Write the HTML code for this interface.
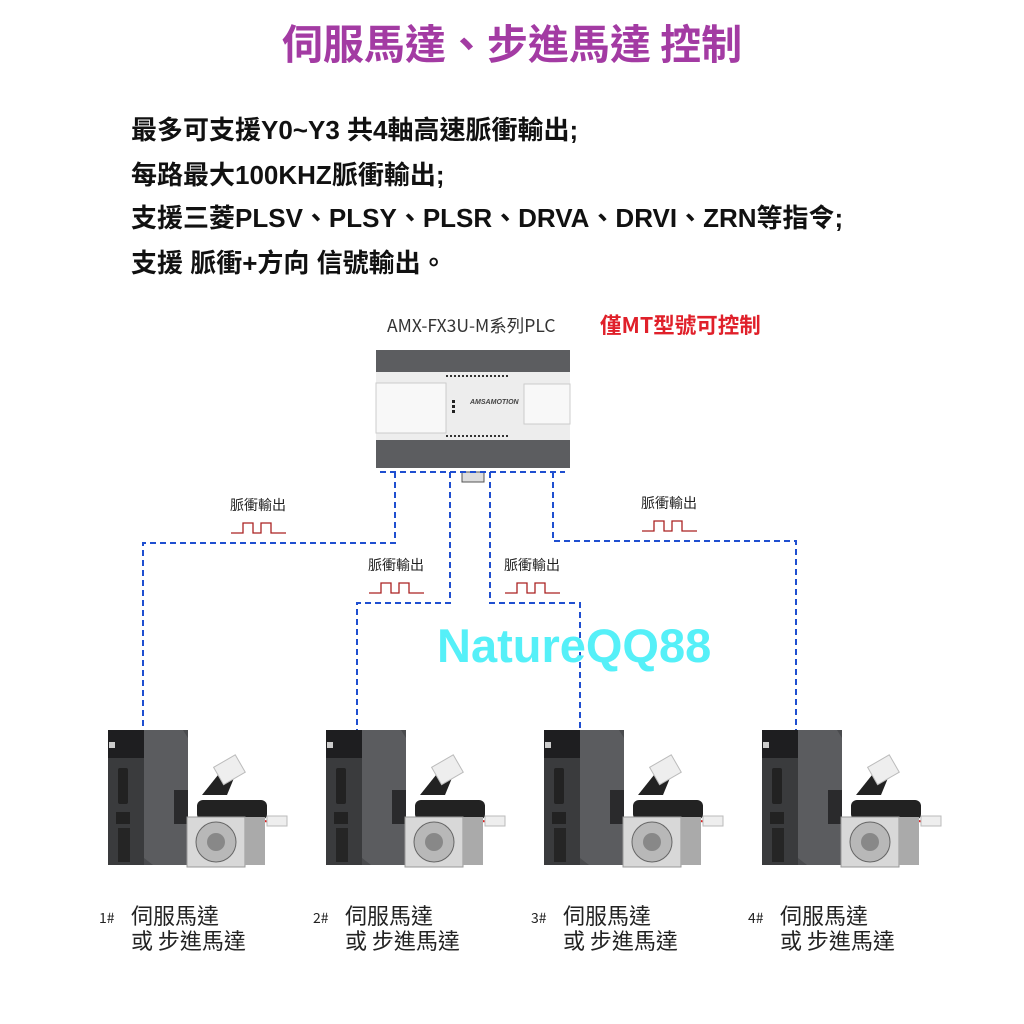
<!DOCTYPE html>
<html><head><meta charset="utf-8"><style>
body{margin:0;width:1024px;height:1024px;background:#fff;position:relative;overflow:hidden;font-family:"Noto Sans CJK TC","Liberation Sans",sans-serif}
div{line-height:1.2}
.t{position:absolute;white-space:nowrap}
h1{position:absolute;margin:0;top:17px;left:0;width:1024px;text-align:center;font-size:41px;line-height:1.2;color:#a33ba3;font-weight:bold}
.l{position:absolute;left:131px;font-size:26px;font-weight:bold;color:#111;white-space:nowrap;font-family:"Liberation Sans","Noto Sans CJK TC",sans-serif;line-height:30px}
.p{position:absolute;font-size:14px;color:#222}
.n{position:absolute;font-size:22px;color:#222;line-height:25px}
.n small{font-size:14px;position:absolute;left:-32px;top:3px}
</style></head><body>
<h1>伺服馬達、步進馬達 控制</h1>
<div class="l" style="top:115px">最多可支援Y0~Y3 共4軸高速脈衝輸出;</div>
<div class="l" style="top:160px">每路最大100KHZ脈衝輸出;</div>
<div class="l" style="top:203px">支援三菱PLSV、PLSY、PLSR、DRVA、DRVI、ZRN等指令;</div>
<div class="l" style="top:248px">支援 脈衝+方向 信號輸出。</div>
<div class="t" style="left:387px;top:315px;font-size:17.5px;color:#333">AMX-FX3U-M系列PLC</div>
<div class="t" style="left:600px;top:312px;font-size:21.5px;color:#e0202a;font-weight:bold">僅MT型號可控制</div>
<svg style="position:absolute;left:0;top:0" width="1024" height="1024">
<defs>
<g id="drv">
<rect x="0" y="0" width="80" height="135" fill="#4a4b4e"/>
<rect x="0" y="0" width="36" height="135" fill="#3a3b3d"/>
<rect x="0" y="0" width="36" height="28" fill="#1e1e20"/>
<polygon points="36,0 75,0 80,8 80,135 45,135 36,128" fill="#5b5c5f"/>
<rect x="66" y="60" width="14" height="34" fill="#2a2a2c"/>
<rect x="10" y="38" width="10" height="36" fill="#222" rx="2"/>
<rect x="8" y="82" width="14" height="12" fill="#222"/>
<rect x="10" y="98" width="12" height="34" fill="#252525"/>
<rect x="1" y="12" width="6" height="6" fill="#ccc"/>
</g>
<g id="mot">
<polygon points="100,65 120,40 132,48 125,65" fill="#222"/>
<rect x="115" y="30" width="25" height="20" fill="#eee" stroke="#bbb" transform="rotate(-30 127 40)"/>
<line x1="115" y1="85" x2="170" y2="92" stroke="#d22" stroke-width="2"/>
<rect x="165" y="86" width="20" height="10" fill="#eee" stroke="#bbb"/>
<rect x="95" y="70" width="70" height="20" fill="#222" rx="6"/>
<rect x="85" y="87" width="58" height="50" fill="#d8d8d8" stroke="#999"/>
<rect x="143" y="87" width="20" height="48" fill="#aaa"/>
<circle cx="114" cy="112" r="20" fill="#b8b8b8" stroke="#666"/>
<circle cx="114" cy="112" r="9" fill="#888"/>
</g>
<path id="pw" d="M0,10 H12 V0 H22 V10 H30 V0 H40 V10 H55" fill="none" stroke="#a22" stroke-width="1.3"/>
</defs>
<rect x="376" y="350" width="194" height="22" fill="#5c5d60"/>
<rect x="376" y="372" width="194" height="70" fill="#ededed"/>
<rect x="376" y="383" width="70" height="50" fill="#f8f8f8" stroke="#ccc"/>
<rect x="524" y="384" width="46" height="40" fill="#f8f8f8" stroke="#ccc"/>
<rect x="376" y="440" width="194" height="28" fill="#5c5d60"/>
<line x1="446" y1="376" x2="510" y2="376" stroke="#333" stroke-width="2" stroke-dasharray="2,2"/>
<line x1="446" y1="436" x2="510" y2="436" stroke="#333" stroke-width="2" stroke-dasharray="2,2"/>
<text x="470" y="404" font-size="7" font-weight="bold" font-style="italic" fill="#444" font-family="Liberation Sans">AMSAMOTION</text>
<rect x="452" y="400" width="3" height="3" fill="#222"/><rect x="452" y="405" width="3" height="3" fill="#222"/><rect x="452" y="410" width="3" height="3" fill="#222"/>
<rect x="462" y="472" width="22" height="10" fill="#ddd" stroke="#555"/>
<g fill="none" stroke="#1f4fd0" stroke-width="2" stroke-dasharray="6,4">
<polyline points="395,472 395,543 143,543 143,730"/>
<polyline points="450,472 450,603 357,603 357,730"/>
<polyline points="490,472 490,603 580,603 580,730"/>
<polyline points="553,472 553,541 796,541 796,730"/>
<line x1="380" y1="472" x2="565" y2="472"/>
</g>
<use href="#pw" x="231" y="523"/><use href="#pw" x="369" y="583"/><use href="#pw" x="505" y="583"/><use href="#pw" x="642" y="521"/>
<use href="#drv" x="108" y="730"/><use href="#mot" x="102" y="730"/>
<use href="#drv" x="326" y="730"/><use href="#mot" x="320" y="730"/>
<use href="#drv" x="544" y="730"/><use href="#mot" x="538" y="730"/>
<use href="#drv" x="762" y="730"/><use href="#mot" x="756" y="730"/>
</svg>
<div class="p" style="left:230px;top:497px">脈衝輸出</div>
<div class="p" style="left:368px;top:557px">脈衝輸出</div>
<div class="p" style="left:504px;top:557px">脈衝輸出</div>
<div class="p" style="left:641px;top:495px">脈衝輸出</div>
<div class="t" style="left:437px;top:618px;font-size:47px;font-weight:bold;color:#55f0f8;font-family:'Liberation Sans',sans-serif">NatureQQ88</div>
<div class="n" style="left:131px;top:903px"><small>1#</small>伺服馬達<br>或 步進馬達</div>
<div class="n" style="left:345px;top:903px"><small>2#</small>伺服馬達<br>或 步進馬達</div>
<div class="n" style="left:563px;top:903px"><small>3#</small>伺服馬達<br>或 步進馬達</div>
<div class="n" style="left:780px;top:903px"><small>4#</small>伺服馬達<br>或 步進馬達</div>
</body></html>
